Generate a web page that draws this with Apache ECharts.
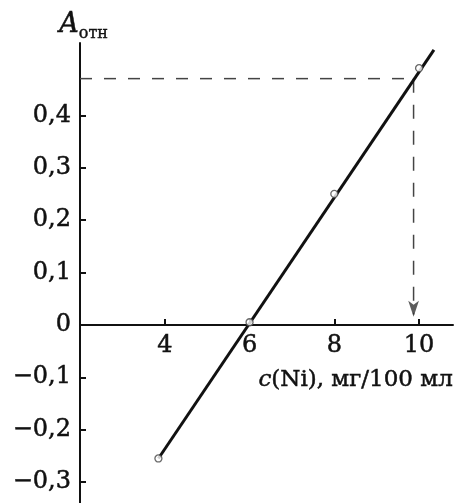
<!DOCTYPE html>
<html>
<head>
<meta charset="utf-8">
<script src="https://cdn.jsdelivr.net/npm/echarts@6/dist/echarts.min.js"></script>
<style>
html, body { margin: 0; padding: 0; background: #fff; }
#chart { width: 456px; height: 503px; }
</style>
</head>
<body>
<div id="chart"></div>
<script>
// calibration points: c(Ni), mg/100 ml -> A_rel
var pointsX = [3.85, 6, 8, 10]
var pointsY = [-0.255, 0.005, 0.25, 0.49]
// fitted line end points
var lineX = [3.85, 10.35]
var lineY = [-0.255, 0.525]
// unknown sample
var sampleA = 0.47
var sampleC = 9.87
var xTicks = [4, 6, 8, 10]
var yTicks = [-0.3, -0.2, -0.1, 0, 0.1, 0.2, 0.3, 0.4]

var font = 'DejaVu Serif'
var ink = '#111'

function fmtY(v) {
  if (Math.abs(v) < 1e-9) return '0'
  return v.toFixed(1).replace('.', ',').replace('-', '\u2212')
}

var chart = echarts.init(document.getElementById('chart'))

chart.setOption({
  animation: false,
  grid: { left: 80, right: 3, top: 43, bottom: 0, containLabel: false, outerBoundsMode: 'none' },
  xAxis: {
    type: 'value',
    min: 2,
    max: 10.8,
    // move the x axis up to y = 0 (grid bottom is at -0.34)
    offset: -178,
    axisLine: { onZero: false, lineStyle: { color: ink, width: 2 } },
    axisTick: { inside: true, length: 6, customValues: xTicks, lineStyle: { color: ink, width: 2 } },
    axisLabel: {
      customValues: xTicks, margin: 9, fontFamily: font, fontSize: 24, color: ink,
      textBorderColor: ink, textBorderWidth: 0.5
    },
    splitLine: { show: false }
  },
  yAxis: {
    type: 'value',
    min: -0.34,
    max: 0.538,
    axisLine: { onZero: false, lineStyle: { color: ink, width: 2 } },
    axisTick: { inside: true, length: 6, customValues: yTicks, lineStyle: { color: ink, width: 2 } },
    axisLabel: {
      customValues: yTicks, margin: 9, fontFamily: font, fontSize: 24, color: ink, formatter: fmtY,
      textBorderColor: ink, textBorderWidth: 0.5
    },
    splitLine: { show: false }
  },
  graphic: [
    {
      type: 'text',
      left: 59,
      top: 11,
      style: {
        text: '{a|A}{s|отн}',
        rich: {
          a: { fontFamily: font, fontStyle: 'italic', fontSize: 27, fill: ink, verticalAlign: 'bottom', stroke: ink, lineWidth: 0.5 },
          s: { fontFamily: font, fontSize: 16, fill: ink, verticalAlign: 'bottom', padding: [0, 0, -4, 0], stroke: ink, lineWidth: 0.4 }
        }
      }
    },
    {
      type: 'text',
      right: 3,
      top: 368,
      style: {
        text: '{i|c}{n|(Ni), мг/100 мл}',
        rich: {
          i: { fontFamily: font, fontStyle: 'italic', fontSize: 23, fill: ink, stroke: ink, lineWidth: 0.5 },
          n: { fontFamily: font, fontSize: 23, fill: ink, stroke: ink, lineWidth: 0.5 }
        }
      }
    }
  ],
  series: [
    {
      type: 'line',
      data: [[2, sampleA], [sampleC + 0.02, sampleA]],
      symbol: 'none',
      lineStyle: { color: '#444', width: 1.5, type: [12, 12] },
      z: 1
    },
    {
      type: 'line',
      data: [[sampleC, sampleA], [sampleC, 0.02]],
      symbol: 'none',
      lineStyle: { color: '#444', width: 1.5, type: [14, 12] },
      z: 1
    },
    {
      type: 'scatter',
      data: [[sampleC, 0]],
      symbol: 'arrow',
      symbolSize: [8, 16],
      symbolRotate: 180,
      symbolOffset: [0, -8],
      itemStyle: { color: '#333' },
      z: 2
    },
    {
      type: 'line',
      data: [[lineX[0], lineY[0]], [lineX[1], lineY[1]]],
      symbol: 'none',
      lineStyle: { color: ink, width: 3 },
      z: 3
    },
    {
      type: 'scatter',
      data: pointsX.map(function (x, i) { return [x, pointsY[i]] }),
      symbol: 'circle',
      symbolSize: 7,
      itemStyle: { color: '#fff', borderColor: '#444', borderWidth: 1.3 },
      z: 4
    }
  ]
})
</script>
</body>
</html>
